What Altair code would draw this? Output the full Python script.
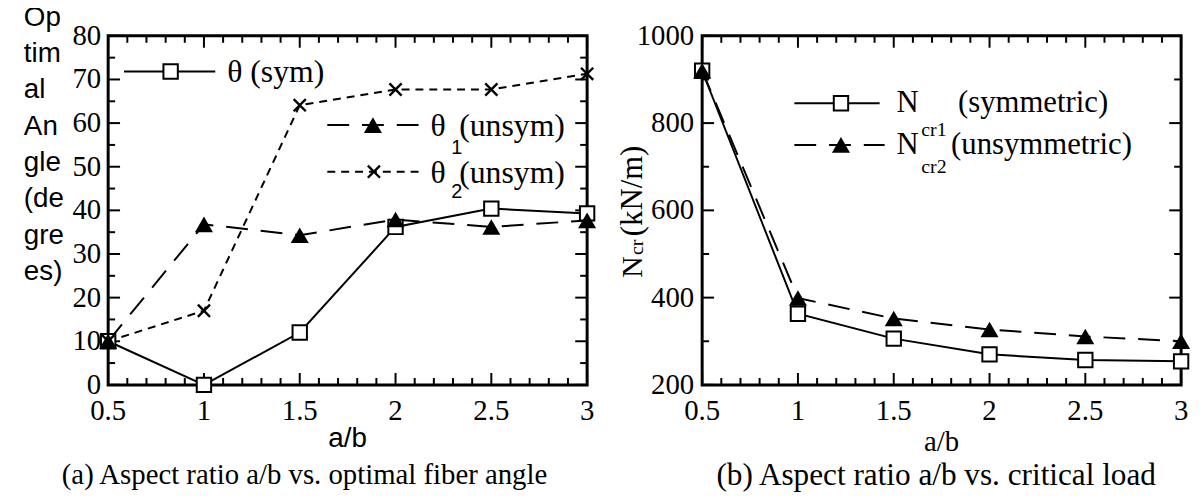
import altair as alt
import pandas as pd

# ---------------- data ----------------
ab = [0.5, 1.0, 1.5, 2.0, 2.5, 3.0]
theta_sym = [10, 0, 12, 36.2, 40.4, 39.3]
theta1_unsym = [10, 36.8, 34.3, 37.9, 36.2, 37.7]
theta2_unsym = [10, 17, 64.1, 67.7, 67.7, 71.3]
ncr1_sym = [920, 363, 306, 270, 257, 254]
ncr2_unsym = [920, 399, 352, 327, 311, 300]

x_major = [0.5, 1.0, 1.5, 2.0, 2.5, 3.0]
x_labels = ["0.5", "1", "1.5", "2", "2.5", "3"]
x_minor = [0.6, 0.7, 0.8, 0.9, 1.1, 1.2, 1.3, 1.4, 1.6, 1.7, 1.8, 1.9,
           2.1, 2.2, 2.3, 2.4, 2.6, 2.7, 2.8, 2.9]
angle_major = [0, 10, 20, 30, 40, 50, 60, 70, 80]
angle_labels = ["0", "10", "20", "30", "40", "50", "60", "70", "80"]
angle_minor = [5, 15, 25, 35, 45, 55, 65, 75]
load_major = [200, 400, 600, 800, 1000]
load_labels = ["200", "400", "600", "800", "1000"]
load_minor = [300, 500, 700, 900]

left_title_lines = ["Op", "tim", "al", "An", "gle", "(de", "gre", "es)"]
caption_a = "(a) Aspect ratio a/b vs. optimal fiber angle"
caption_b = "(b) Aspect ratio a/b vs. critical load"

# ---------------- styling ----------------
W, H = 483, 352
SERIF = "Liberation Serif"
SANS = "Liberation Sans"
MAJ, MIN = 12, 7
XMARK = "M-1,-1L1,1M-1,1L1,-1"

xs = alt.Scale(domain=[0.5, 3], nice=False, zero=False)
ys_a = alt.Scale(domain=[0, 80], nice=False, zero=False)
ys_b = alt.Scale(domain=[200, 1000], nice=False, zero=False)

one = pd.DataFrame({"t": [""]})


def text(label, x, y, font=SERIF, size=31, align="left", baseline="middle", angle=0):
    return alt.Chart(pd.DataFrame({"t": [label]})).mark_text(
        font=font, fontSize=size, align=align, baseline=baseline, angle=angle,
        color="black"
    ).encode(x=alt.value(x), y=alt.value(y), text="t:N")


def x_ticks(values, length):
    base = alt.Chart(pd.DataFrame({"v": values}))
    enc_x = alt.X("v:Q", scale=xs, axis=None)
    b = base.mark_rule(color="black", strokeWidth=2).encode(
        x=enc_x, y=alt.value(H), y2=alt.value(H - length))
    t = base.mark_rule(color="black", strokeWidth=2).encode(
        x=enc_x, y=alt.value(0), y2=alt.value(length))
    return [b, t]


def y_ticks(values, scale, length):
    base = alt.Chart(pd.DataFrame({"v": values}))
    enc_y = alt.Y("v:Q", scale=scale, axis=None)
    l = base.mark_rule(color="black", strokeWidth=2).encode(
        y=enc_y, x=alt.value(0), x2=alt.value(length))
    r = base.mark_rule(color="black", strokeWidth=2).encode(
        y=enc_y, x=alt.value(W), x2=alt.value(W - length))
    return [l, r]


def x_tick_labels(y):
    df = pd.DataFrame({"v": x_major, "lab": x_labels})
    return alt.Chart(df).mark_text(font=SERIF, fontSize=29, align="center",
                                   baseline="middle", color="black").encode(
        x=alt.X("v:Q", scale=xs, axis=None), y=alt.value(y), text="lab:N")


def y_tick_labels(values, labels, scale, x):
    df = pd.DataFrame({"v": values, "lab": labels})
    return alt.Chart(df).mark_text(font=SERIF, fontSize=29, align="right",
                                   baseline="middle", color="black").encode(
        y=alt.Y("v:Q", scale=scale, axis=None), x=alt.value(x), text="lab:N")


def line(vals, scale, dash):
    df = pd.DataFrame({"ab": ab, "v": vals})
    kw = dict(color="black", strokeWidth=2)
    if dash:
        kw["strokeDash"] = dash
    return alt.Chart(df).mark_line(**kw).encode(
        x=alt.X("ab:Q", scale=xs, axis=None),
        y=alt.Y("v:Q", scale=scale, axis=None),
    )


def marker(chart, kind):
    if kind == "square":
        return chart.mark_point(shape="square", filled=True, fill="white", stroke="black",
                                strokeWidth=2, size=210, opacity=1)
    if kind == "tri":
        return chart.mark_point(shape="triangle-up", filled=True, color="black",
                                size=330, opacity=1)
    return chart.mark_point(shape=XMARK, filled=False, stroke="black",
                            strokeWidth=2.4, size=150, opacity=1)


def pts(vals, scale, kind):
    df = pd.DataFrame({"ab": ab, "v": vals})
    return marker(alt.Chart(df), kind).encode(
        x=alt.X("ab:Q", scale=xs, axis=None),
        y=alt.Y("v:Q", scale=scale, axis=None))


def leg_line(x1, x2, y, dash):
    kw = dict(color="black", strokeWidth=2)
    if dash:
        kw["strokeDash"] = dash
    return alt.Chart(one).mark_rule(**kw).encode(
        x=alt.value(x1), x2=alt.value(x2), y=alt.value(y))


def leg_pt(x, y, kind):
    return marker(alt.Chart(one), kind).encode(x=alt.value(x), y=alt.value(y))


DASH_LONG = [22, 13]
DASH_SHORT = [8, 6]

# ---------------- panel (a) ----------------
layers_a = [
    line(theta_sym, ys_a, None),
    line(theta1_unsym, ys_a, DASH_LONG),
    line(theta2_unsym, ys_a, DASH_SHORT),
]
layers_a += x_ticks(x_major, MAJ) + x_ticks(x_minor, MIN)
layers_a += y_ticks(angle_major, ys_a, MAJ) + y_ticks(angle_minor, ys_a, MIN)
layers_a += [pts(theta_sym, ys_a, "square"), pts(theta1_unsym, ys_a, "tri"),
             pts(theta2_unsym, ys_a, "x")]
layers_a += [x_tick_labels(H + 26), y_tick_labels(angle_major, angle_labels, ys_a, -7),
             text("a/b", W / 2, H + 55, font=SANS, size=28, align="center")]
# legend (a)
layers_a += [
    leg_line(16, 108, 36, None), leg_pt(63, 36, "square"),
    text("θ (sym)", 120, 37, size=32),
    leg_line(221, 313, 90, DASH_LONG), leg_pt(267, 90, "tri"),
    text("θ", 325, 91, size=32), text("1", 346, 113, font=SANS, size=20),
    text("(unsym)", 354, 91, size=32),
    leg_line(221, 313, 137, DASH_SHORT), leg_pt(268, 137, "x"),
    text("θ", 325, 138, size=32), text("2", 346, 158, font=SANS, size=20),
    text("(unsym)", 354, 138, size=32),
]
# y title (wrapped) and caption
layers_a += [
    alt.Chart(pd.DataFrame({"t": ["\n".join(left_title_lines)]})).mark_text(
        font=SANS, fontSize=28, align="left", baseline="alphabetic", lineBreak="\n",
        lineHeight=36.6, color="black"
    ).encode(x=alt.value(-85), y=alt.value(-10), text="t:N"),
    text(caption_a, 198, 443, size=29, align="center"),
]
panel_a = alt.layer(*layers_a).properties(width=W, height=H)

# ---------------- panel (b) ----------------
layers_b = [
    line(ncr1_sym, ys_b, None),
    line(ncr2_unsym, ys_b, DASH_LONG),
]
layers_b += x_ticks(x_major, MAJ) + x_ticks(x_minor, MIN)
layers_b += y_ticks(load_major, ys_b, MAJ) + y_ticks(load_minor, ys_b, MIN)
layers_b += [pts(ncr1_sym, ys_b, "square"), pts(ncr2_unsym, ys_b, "tri")]
layers_b += [x_tick_labels(H + 26), y_tick_labels(load_major, load_labels, ys_b, -8),
             text("a/b", W / 2, H + 58, size=29, align="center")]
layers_b += [
    leg_line(93, 179, 68, None), leg_pt(140, 68, "square"),
    text("N", 196, 68), text("cr1", 221, 95, size=20), text("(symmetric)", 258, 68),
    leg_line(93, 184, 110, DASH_LONG), leg_pt(140, 110, "tri"),
    text("N", 196, 110), text("cr2", 221, 132, size=20), text("(unsymmetric)", 251, 110),
    # rotated y title
    text("N", -61, 244, size=30, baseline="alphabetic", angle=270),
    text("cr", -60, 221, size=20, baseline="alphabetic", angle=270),
    text("(kN/m)", -61, 202, size=31, baseline="alphabetic", angle=270),
    text(caption_b, 236, 444, size=31.5, align="center"),
]
panel_b = alt.layer(*layers_b).properties(width=W, height=H)

chart = alt.hconcat(panel_a, panel_b, spacing=116, bounds="flush").properties(
    padding={"left": 14, "top": -8, "right": 0, "bottom": 4},
    background="white",
).configure_view(stroke="black", strokeWidth=3)

chart.save("out.html", embed_options={"renderer": "svg", "actions": False})
